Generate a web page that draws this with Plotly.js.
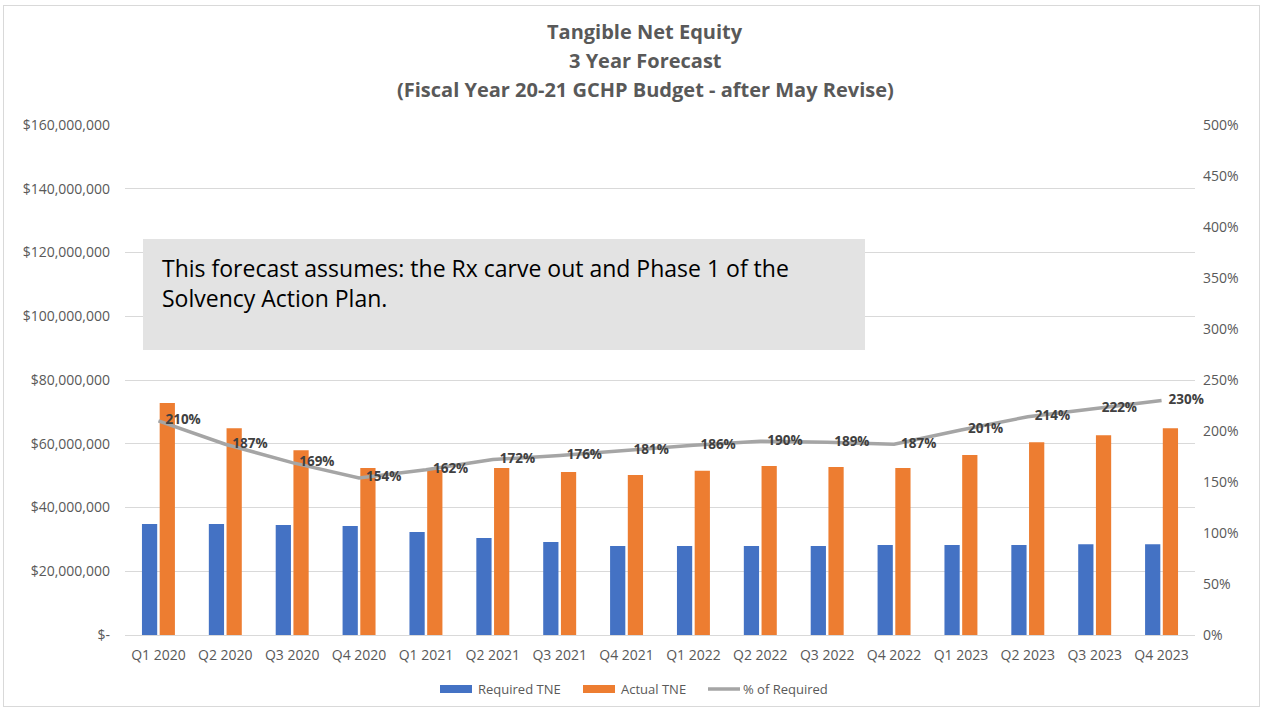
<!DOCTYPE html>
<html>
<head>
<meta charset="utf-8">
<script src="https://cdn.plot.ly/plotly-3.0.1.min.js"></script>
<style>
html,body{margin:0;padding:0;background:#fff;}
#frame{position:absolute;left:3px;top:5px;width:1257px;height:702px;border:1px solid #d9d9d9;box-sizing:border-box;}
#chart{position:absolute;left:0;top:0;width:1267px;height:713px;}
</style>
</head>
<body>
<div id="frame"></div>
<div id="chart"></div>
<script>
const quarters = ["Q1 2020","Q2 2020","Q3 2020","Q4 2020","Q1 2021","Q2 2021","Q3 2021","Q4 2021","Q1 2022","Q2 2022","Q3 2022","Q4 2022","Q1 2023","Q2 2023","Q3 2023","Q4 2023"];
const requiredTNE = [34800000,34800000,34500000,34200000,32300000,30400000,29200000,27900000,27900000,27900000,27900000,28200000,28200000,28200000,28500000,28500000];
const actualTNE = [72800000,64900000,58000000,52400000,51800000,52400000,51100000,50200000,51500000,53000000,52700000,52400000,56500000,60500000,62700000,64900000];
const pctRequired = [210,187,169,154,162,172,176,181,186,190,189,187,201,214,222,230];
const leftTicks = [0,20000000,40000000,60000000,80000000,100000000,120000000,140000000,160000000];
const leftTickText = ["$-","$20,000,000","$40,000,000","$60,000,000","$80,000,000","$100,000,000","$120,000,000","$140,000,000","$160,000,000"];
const rightTicks = [0,50,100,150,200,250,300,350,400,450,500];
const rightTickText = rightTicks.map(v => v + "%");
const titleLines = ["Tangible Net Equity","3 Year Forecast","(Fiscal Year 20-21 GCHP Budget - after May Revise)"];
const legendNames = ["Required TNE","Actual TNE","% of Required"];

const font = "Open Sans, Liberation Sans, sans-serif";
const colors = {req:"#4472c4", act:"#ed7d31", pct:"#a5a5a5"};

// pixel -> paper helpers (plot area: x 125..1195, y 125..635)
const L = 125, R = 1195, T = 125, B = 635;
const px = v => (v - L) / (R - L);
const py = v => (B - v) / (B - T);

const traces = [
  {type:"bar", name:legendNames[0], x:quarters, y:requiredTNE, marker:{color:colors.req}},
  {type:"bar", name:legendNames[1], x:quarters, y:actualTNE, marker:{color:colors.act}},
  {type:"scatter", mode:"lines+text", name:legendNames[2], x:quarters, y:pctRequired, yaxis:"y2",
   line:{color:colors.pct, width:3.5},
   text:pctRequired.map(v => "  " + v + "%"), textposition:"middle right",
   textfont:{family:font, size:13.5, color:"#404040", weight:"bold"},
   cliponaxis:false}
];

const annotations = titleLines.map((t, i) => ({
  xref:"paper", yref:"paper", x:px(645), y:py([32, 60, 89][i]), xanchor:"center", yanchor:"middle",
  showarrow:false, text:"<b>" + t + "</b>", font:{family:font, size:20, color:"#595959"}
}));
annotations.push({xref:"paper", yref:"paper", x:px(160), y:py(283), xanchor:"left", yanchor:"middle", align:"left",
  showarrow:false, text:"This forecast assumes: the Rx carve out and Phase 1 of the<br>Solvency Action Plan.",
  font:{family:font, size:23, color:"#000000"}});

const shapes = [
  {type:"rect", xref:"paper", yref:"paper", x0:px(143), x1:px(865), y0:py(350), y1:py(239),
   fillcolor:"#e3e3e3", line:{width:0}, layer:"above"},
  {type:"rect", xref:"paper", yref:"paper", x0:px(440), x1:px(472), y0:py(693), y1:py(685), fillcolor:colors.req, line:{width:0}},
  {type:"rect", xref:"paper", yref:"paper", x0:px(583), x1:px(615), y0:py(693), y1:py(685), fillcolor:colors.act, line:{width:0}},
  {type:"line", xref:"paper", yref:"paper", x0:px(708), x1:px(740), y0:py(689), y1:py(689), line:{color:colors.pct, width:3.5}}
];
[[476, legendNames[0]], [619, legendNames[1]], [741, legendNames[2]]].forEach(([x, t]) => {
  annotations.push({xref:"paper", yref:"paper", x:px(x), y:py(689), xanchor:"left", yanchor:"middle",
    showarrow:false, text:t, font:{family:font, size:13, color:"#595959"}});
});

const layout = {
  width:1267, height:713,
  paper_bgcolor:"rgba(0,0,0,0)", plot_bgcolor:"rgba(0,0,0,0)",
  margin:{l:L, r:1267 - R, t:T, b:713 - B},
  font:{family:font, color:"#595959"},
  barmode:"group", bargap:0.47, bargroupgap:0.14,
  showlegend:false,
  xaxis:{type:"category", range:[-0.5, 15.5], showgrid:false, showline:false, ticks:"",
         tickfont:{size:14, color:"#595959"}, ticklabelstandoff:10, automargin:false},
  yaxis:{range:[0,160000000], tickvals:leftTicks, ticktext:leftTickText, showgrid:true, gridcolor:"#d9d9d9", gridwidth:1,
         zeroline:true, zerolinecolor:"#d9d9d9", zerolinewidth:1, showline:false, ticks:"",
         tickfont:{size:14, color:"#595959"}, ticklabelstandoff:14, automargin:false},
  yaxis2:{range:[0,500], overlaying:"y", side:"right", tickvals:rightTicks, ticktext:rightTickText, showgrid:false,
          zeroline:false, showline:false, ticks:"", tickfont:{size:14, color:"#595959"}, ticklabelstandoff:7, automargin:false},
  shapes:shapes,
  annotations:annotations
};

Plotly.newPlot("chart", traces, layout, {displayModeBar:false, staticPlot:true});
</script>
</body>
</html>
